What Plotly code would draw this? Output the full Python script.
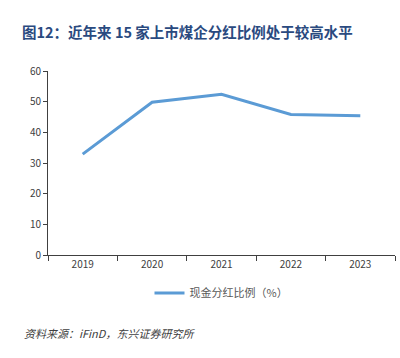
import plotly.graph_objects as go

years = ["2019", "2020", "2021", "2022", "2023"]
payout_ratio = [32.9, 49.8, 52.4, 45.8, 45.4]
series_name = "现金分红比例（%）"
y_ticks = [0, 10, 20, 30, 40, 50, 60]

fig = go.Figure()
fig.add_trace(go.Scatter(
    x=years, y=payout_ratio, mode="lines", name=series_name,
    line=dict(color="#5B9BD5", width=3),
))

font_cjk = "Noto Sans CJK SC, Noto Sans, sans-serif"

fig.update_layout(
    width=400, height=358,
    margin=dict(l=48, r=5, t=71, b=103),
    paper_bgcolor="white", plot_bgcolor="white",
    font=dict(family=font_cjk, size=10, color="#404040"),
    title=dict(
        text="<b>图12：近年来 15 家上市煤企分红比例处于较高水平</b>",
        x=22/400, xanchor="left", xref="container",
        y=1-33/358, yanchor="middle", yref="container",
        font=dict(family=font_cjk, size=14.5, color="#2A4A7F"),
    ),
    xaxis=dict(
        type="category", range=[-0.5, 4.5],
        showline=True, linecolor="#404040", linewidth=1,
        ticks="outside", tickson="boundaries", ticklen=5, tickcolor="#404040",
        showgrid=False, tickfont=dict(size=10, color="#404040"),
    ),
    yaxis=dict(
        range=[0, 60], tickvals=y_ticks,
        showline=True, linecolor="#404040", linewidth=1,
        ticks="outside", ticklen=4, tickcolor="#404040",
        showgrid=False, zeroline=False, tickfont=dict(size=10, color="#404040"),
    ),
    showlegend=True,
    legend=dict(
        orientation="h", x=0.5, xanchor="center", y=-0.207, yanchor="middle",
        font=dict(size=11, color="#595959"), itemwidth=30,
    ),
    annotations=[dict(
        text="<i>资料来源：iFinD，东兴证券研究所</i>",
        xref="paper", yref="paper", x=-26/347, xanchor="left",
        y=(255-333)/184, yanchor="middle", showarrow=False,
        font=dict(family=font_cjk, size=11, color="#404040"),
    )],
)

fig.write_html("out.html", config={"displayModeBar": False},
               post_script="document.body.style.margin='0';")
